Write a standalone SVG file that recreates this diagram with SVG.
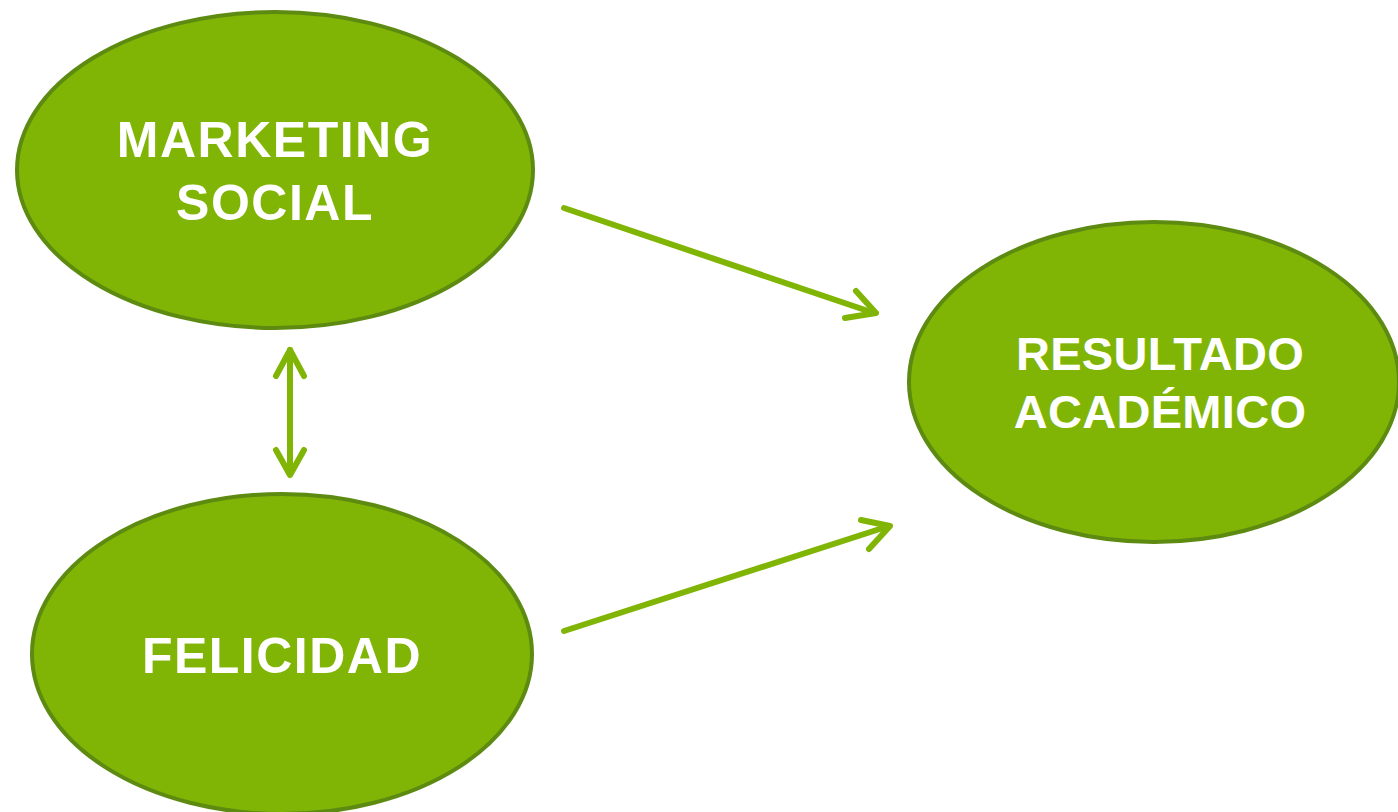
<svg xmlns="http://www.w3.org/2000/svg" width="1398" height="812" viewBox="0 0 1398 812">
<style>
.node{fill:#80b505;stroke:#5d8a10;stroke-width:4}
.lbl{font-family:"Liberation Sans",Arial,sans-serif;font-weight:bold;font-size:50px;fill:#ffffff;text-anchor:middle;letter-spacing:1.5px}
.lbl2{font-family:"Liberation Sans",Arial,sans-serif;font-weight:bold;font-size:47px;fill:#ffffff;text-anchor:middle;letter-spacing:0.3px}
.conn{stroke:#80b505;stroke-width:6;fill:none;stroke-linecap:round;stroke-linejoin:round}
</style>
<rect width="1398" height="812" fill="#ffffff"/>
<g id="marketing-social">
<ellipse class="node" cx="275" cy="170" rx="258" ry="158"/>
<text class="lbl" x="275" y="157">MARKETING</text>
<text class="lbl" x="275" y="220">SOCIAL</text>
</g>
<g id="felicidad">
<ellipse class="node" cx="282" cy="654" rx="250" ry="160"/>
<text class="lbl" x="282" y="673">FELICIDAD</text>
</g>
<g id="resultado-academico">
<ellipse class="node" cx="1154" cy="382" rx="245" ry="160"/>
<text class="lbl2" x="1160" y="370">RESULTADO</text>
<text class="lbl2" x="1160" y="428">ACADÉMICO</text>
</g>
<g id="connectors">
<line class="conn" x1="290" y1="350" x2="290" y2="474"/>
<polyline class="conn" points="276,376 290,350 304,376"/>
<polyline class="conn" points="276,450 290,475 304,450"/>
<line class="conn" x1="564" y1="208" x2="874" y2="313"/>
<polyline class="conn" points="856,291 876,313 845,318"/>
<line class="conn" x1="564" y1="631" x2="889" y2="526"/>
<polyline class="conn" points="861,520 890,526 869,549"/>
</g>
</svg>
